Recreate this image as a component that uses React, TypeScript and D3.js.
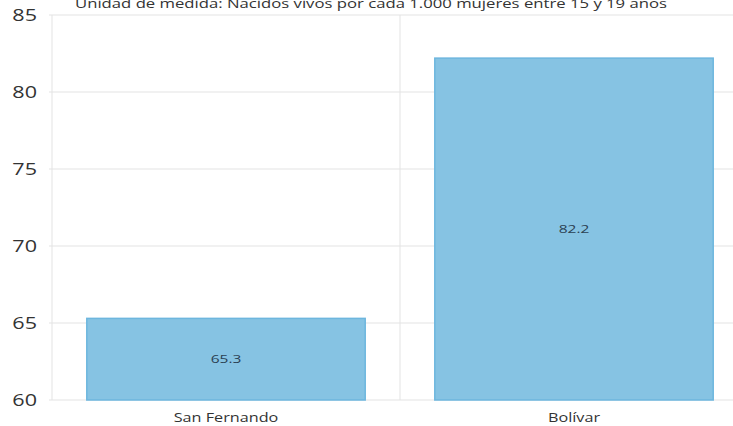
import React from "react";
import * as d3 from "d3";

const categories = ["San Fernando", "Bolívar"];
const values = [65.3, 82.2];
const yTicks = [60, 65, 70, 75, 80, 85];
const subtitle = "Unidad de medida: Nacidos vivos por cada 1.000 mujeres entre 15 y 19 años";

function SText(props: { x: number; y: number; sx: number; anchor: string; size: number; fill: string; children: any }) {
  const { x, y, sx, anchor, size, fill, children } = props;
  return (
    <g transform={`translate(${x},${y}) scale(${sx},1)`}>
      <text x={0} y={0} textAnchor={anchor as any} fontSize={size} fill={fill}>{children}</text>
    </g>
  );
}

export default function App() {
  const W = 733, H = 426;
  const left = 52, right = 748, top = 15, bottom = 400;
  const x = d3.scaleBand<string>().domain(categories).range([left, right]).paddingInner(0.2).paddingOuter(0.1);
  const xOuter = d3.scaleBand<string>().domain(categories).range([left, right]);
  const y = d3.scaleLinear().domain([60, 85]).range([bottom, top]);
  const font = "'Open Sans', 'Noto Sans', sans-serif";
  return (
    <svg width={W} height={H} style={{ position: "absolute", left: 0, top: 0, background: "#fff" }} fontFamily={font}>
      <text x={75} y={8} fontSize={13.5} fill="#333" textLength={592} lengthAdjust="spacingAndGlyphs">{subtitle}</text>
      {yTicks.map((t) => (
        <g key={t}>
          <line x1={left - 3} x2={right} y1={y(t)} y2={y(t)} stroke="#e3e3e3" strokeWidth={1} />
          <SText x={37} y={y(t) + 5.8} sx={1.35} anchor="end" size={16} fill="#333">{t}</SText>
        </g>
      ))}
      <line x1={left} x2={left} y1={top} y2={bottom} stroke="#e3e3e3" />
      {categories.slice(1).map((c) => (
        <line key={c} x1={xOuter(c)!} x2={xOuter(c)!} y1={top} y2={bottom} stroke="#e3e3e3" />
      ))}
      {categories.map((c, i) => (
        <g key={c}>
          <rect x={x(c)!} y={y(values[i])} width={x.bandwidth()} height={y(60) - y(values[i])}
            fill="#86c3e3" stroke="#6db6de" strokeWidth={1.5} />
          <SText x={x(c)! + x.bandwidth() / 2} y={(y(values[i]) + y(60)) / 2 + 4.2} sx={1.35} anchor="middle" size={11.5} fill="#2b4052">{values[i]}</SText>
          <SText x={x(c)! + x.bandwidth() / 2} y={422} sx={1.2} anchor="middle" size={13.5} fill="#333">{c}</SText>
        </g>
      ))}
    </svg>
  );
}
